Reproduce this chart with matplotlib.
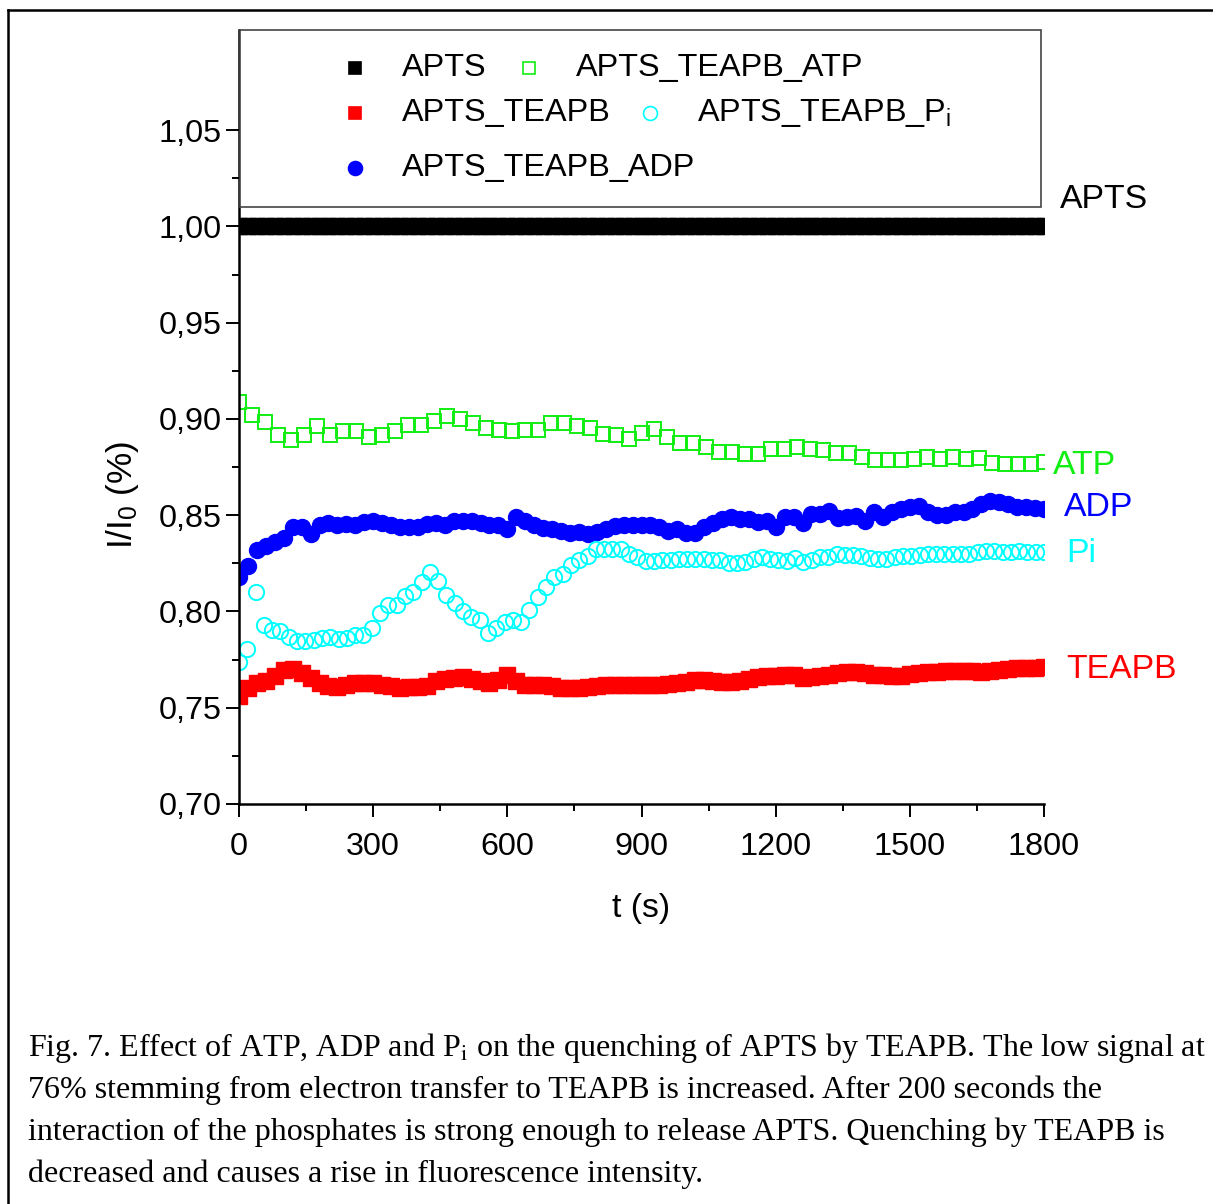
import matplotlib
matplotlib.use("Agg")
import matplotlib.pyplot as plt
import matplotlib.ticker as mticker
from matplotlib.lines import Line2D
from matplotlib.patches import Rectangle
import numpy as np

plt.rcParams['font.family'] = ['Liberation Sans', 'DejaVu Sans']
plt.rcParams['mathtext.fontset'] = 'custom'
plt.rcParams['mathtext.rm'] = 'Liberation Sans'
plt.rcParams['mathtext.it'] = 'Liberation Sans:italic'

# values (I/I0 vs time)
apts = [1.0] * 91

teapb = [0.7560, 0.7600, 0.7630, 0.7640, 0.7665, 0.7695, 0.7700, 0.7680, 0.7655, 0.7630,
         0.7615, 0.7610, 0.7620, 0.7628, 0.7630, 0.7626, 0.7620, 0.7612, 0.7605, 0.7608,
         0.7610, 0.7615, 0.7640, 0.7650, 0.7655, 0.7658, 0.7650, 0.7640, 0.7630, 0.7645,
         0.7668, 0.7640, 0.7620, 0.7618, 0.7618, 0.7615, 0.7605, 0.7600, 0.7603, 0.7608,
         0.7612, 0.7616, 0.7618, 0.7618, 0.7617, 0.7618, 0.7618, 0.7620, 0.7625, 0.7630,
         0.7636, 0.7642, 0.7642, 0.7640, 0.7636, 0.7635, 0.7640, 0.7650, 0.7660, 0.7664,
         0.7666, 0.7668, 0.7668, 0.7655, 0.7658, 0.7665, 0.7669, 0.7678, 0.7686, 0.7684,
         0.7678, 0.7672, 0.7668, 0.7664, 0.7665, 0.7675, 0.7680, 0.7685, 0.7688, 0.7690,
         0.7692, 0.7692, 0.7690, 0.7688, 0.7692, 0.7695, 0.7700, 0.7704, 0.7706, 0.7708,
         0.7710]

adp = [0.8180, 0.8235, 0.8320, 0.8340, 0.8360, 0.8380, 0.8440, 0.8440, 0.8400, 0.8450,
       0.8460, 0.8450, 0.8455, 0.8450, 0.8465, 0.8470, 0.8460, 0.8450, 0.8440, 0.8440,
       0.8440, 0.8455, 0.8460, 0.8450, 0.8470, 0.8470, 0.8470, 0.8460, 0.8450, 0.8450,
       0.8430, 0.8490, 0.8470, 0.8450, 0.8435, 0.8430, 0.8420, 0.8405, 0.8412, 0.8400,
       0.8415, 0.8430, 0.8445, 0.8448, 0.8448, 0.8448, 0.8450, 0.8440, 0.8420, 0.8428,
       0.8410, 0.8410, 0.8440, 0.8462, 0.8480, 0.8490, 0.8482, 0.8482, 0.8466, 0.8472,
       0.8440, 0.8490, 0.8491, 0.8458, 0.8508, 0.8508, 0.8524, 0.8484, 0.8492, 0.8498,
       0.8470, 0.8514, 0.8492, 0.8518, 0.8534, 0.8540, 0.8548, 0.8518, 0.8500, 0.8500,
       0.8515, 0.8518, 0.8530, 0.8560, 0.8572, 0.8566, 0.8560, 0.8545, 0.8540, 0.8538,
       0.8534]

atp = [0.9088, 0.9022, 0.8985, 0.8915, 0.8893, 0.8915, 0.8962, 0.8919, 0.8936, 0.8938,
       0.8906, 0.8919, 0.8939, 0.8967, 0.8970, 0.8989, 0.9014, 0.9002, 0.8979, 0.8953,
       0.8941, 0.8936, 0.8941, 0.8945, 0.8981, 0.8981, 0.8965, 0.8953, 0.8924, 0.8919,
       0.8898, 0.8929, 0.8950, 0.8906, 0.8875, 0.8875, 0.8855, 0.8829, 0.8829, 0.8820,
       0.8820, 0.8842, 0.8846, 0.8855, 0.8846, 0.8837, 0.8825, 0.8823, 0.8803, 0.8785,
       0.8785, 0.8785, 0.8791, 0.8803, 0.8791, 0.8803, 0.8791, 0.8799, 0.8771, 0.8768,
       0.8768, 0.8765, 0.8777]

pi = [0.7739, 0.7803, 0.8102, 0.7929, 0.7903, 0.7900, 0.7865, 0.7848, 0.7848, 0.7851,
      0.7860, 0.7865, 0.7855, 0.7860, 0.7877, 0.7877, 0.7912, 0.7990, 0.8033, 0.8033,
      0.8080, 0.8102, 0.8154, 0.8206, 0.8159, 0.8088, 0.8045, 0.8003, 0.7972, 0.7955,
      0.7889, 0.7912, 0.7946, 0.7955, 0.7946, 0.8010, 0.8073, 0.8128, 0.8180, 0.8197,
      0.8240, 0.8266, 0.8287, 0.8322, 0.8327, 0.8327, 0.8322, 0.8301, 0.8284, 0.8263,
      0.8263, 0.8266, 0.8266, 0.8275, 0.8275, 0.8275, 0.8270, 0.8266, 0.8266, 0.8252,
      0.8252, 0.8258, 0.8275, 0.8284, 0.8270, 0.8266, 0.8263, 0.8280, 0.8258, 0.8266,
      0.8284, 0.8284, 0.8298, 0.8292, 0.8292, 0.8287, 0.8280, 0.8275, 0.8275, 0.8284,
      0.8287, 0.8287, 0.8292, 0.8301, 0.8301, 0.8298, 0.8298, 0.8298, 0.8301, 0.8310,
      0.8315, 0.8315, 0.8310, 0.8310, 0.8315, 0.8310, 0.8310, 0.8310]

t_end = 1800
x_ticks = [0, 300, 600, 900, 1200, 1500, 1800]
y_ticks = [0.70, 0.75, 0.80, 0.85, 0.90, 0.95, 1.00, 1.05]

caption = [
    r"Fig. 7. Effect of ATP, ADP and P$_\mathrm{i}$ on the quenching of APTS by TEAPB. The low signal at",
    "76% stemming from electron transfer to TEAPB is increased. After 200 seconds the",
    "interaction of the phosphates is strong enough to release APTS. Quenching by TEAPB is",
    "decreased and causes a rise in fluorescence intensity.",
]


def t_axis(values):
    return np.linspace(0, t_end, len(values))


W, H = 1213, 1204
fs = 23.3
fig = plt.figure(figsize=(W / 100, H / 100), dpi=100)
ax = fig.add_axes([239 / W, 1 - 804 / H, 805 / W, 774 / H])

ax.plot(t_axis(apts), apts, ls='none', marker='s', ms=11.5, color='black', mec='black')
ax.plot(t_axis(teapb), teapb, ls='none', marker='s', ms=11.5, color='#ff0000', mec='#ff0000')
ax.plot(t_axis(atp), atp, ls='none', marker='s', ms=10, mfc='none', mec='#11ee11', mew=1.4)
ax.plot(t_axis(adp), adp, ls='none', marker='o', ms=11.5, color='#0000ff', mec='#0000ff')
ax.plot(t_axis(pi), pi, ls='none', marker='o', ms=11, mfc='none', mec='#00ffff', mew=1.4)

ax.set_xlim(0, t_end)
ax.set_ylim(0.70, 1.102)

ax.spines['top'].set_visible(False)
ax.spines['right'].set_visible(False)
ax.spines['left'].set_linewidth(1.8)
ax.spines['bottom'].set_linewidth(1.8)

ax.xaxis.set_major_locator(mticker.FixedLocator(x_ticks))
ax.xaxis.set_minor_locator(mticker.FixedLocator([150, 450, 750, 1050, 1350, 1650]))
ax.yaxis.set_major_locator(mticker.FixedLocator(y_ticks))
ax.yaxis.set_minor_locator(mticker.FixedLocator([0.725, 0.775, 0.825, 0.875, 0.925, 0.975, 1.025]))
ax.yaxis.set_major_formatter(mticker.FuncFormatter(lambda v, p: f"{v:.2f}".replace('.', ',')))
ax.tick_params(which='major', direction='out', length=9.5, width=1.4, labelsize=fs)
ax.tick_params(which='minor', direction='out', length=5, width=1.4)
ax.tick_params(axis='x', which='major', pad=11)
ax.tick_params(axis='y', which='major', pad=3)

ax.set_xlabel("t (s)", fontsize=fs + 1)
ax.xaxis.set_label_coords(0.5, -0.115)
ax.set_ylabel(r"I/I$_\mathregular{0}$ (%)", fontsize=fs + 2)
ax.yaxis.set_label_coords(-0.122, 0.40)

# legend box drawn by hand (irregular layout)
ax.add_patch(Rectangle((0.001, 0.7713), 0.995, 0.2287, transform=ax.transAxes,
                       facecolor='white', edgecolor='#444444', lw=1.2, zorder=5, clip_on=False))
leg = [
    (0.1441, 0.951, 's', 'black', 'black', "APTS"),
    (0.1441, 0.893, 's', '#ff0000', '#ff0000', "APTS_TEAPB"),
    (0.1441, 0.822, 'o', '#0000ff', '#0000ff', "APTS_TEAPB_ADP"),
    (0.3602, 0.951, 's', 'none', '#11ee11', "APTS_TEAPB_ATP"),
    (0.5106, 0.893, 'o', 'none', '#00ffff', r"APTS_TEAPB_P$_\mathregular{i}$"),
]
for lx, ly, m, fc, ec, lab in leg:
    ax.add_artist(Line2D([lx], [ly], transform=ax.transAxes, ls='none', marker=m,
                         ms=9 if m == 's' else 10, mfc=fc, mec=ec, mew=1.2, zorder=6, clip_on=False))
    ax.text(lx + 0.058, ly, lab, transform=ax.transAxes, fontsize=fs, va='center',
            ha='left', zorder=6)

# right-hand series names
side = [(1836, 1.0140, "APTS", 'black'), (1820, 0.8760, "ATP", '#11ee11'),
        (1845, 0.8540, "ADP", '#0000ff'), (1849, 0.8300, "Pi", '#00ffff'),
        (1849, 0.7700, "TEAPB", '#ff0000')]
for sx, sy, s, c in side:
    ax.text(sx, sy, s, color=c, fontsize=fs + 1, va='center', ha='left', clip_on=False)

# outer frame of the figure panel
fig.add_artist(Line2D([8 / W, 1.0], [1 - 10 / H, 1 - 10 / H], color='black', lw=1.8))
fig.add_artist(Line2D([8 / W, 8 / W], [0.0, 1 - 10 / H], color='black', lw=1.8))

for i, line in enumerate(caption):
    fig.text(28 / W, 1 - (1048 + 42 * i) / H, line, fontsize=23.0, va='center', ha='left',
             family=['Liberation Serif', 'DejaVu Serif'], math_fontfamily='stix')

plt.savefig('out.png', dpi=100)
